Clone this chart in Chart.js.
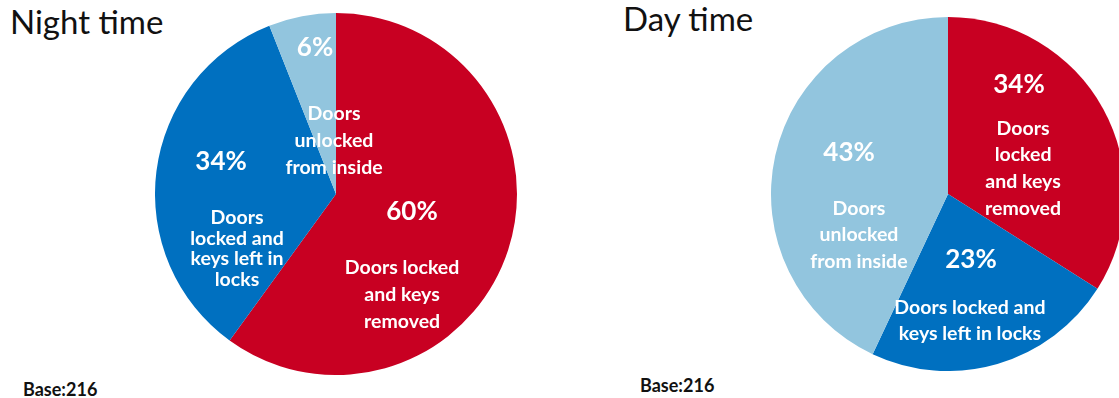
<!DOCTYPE html>
<html>
<head>
<meta charset="utf-8">
<script src="https://cdn.jsdelivr.net/npm/chart.js@4.4.1/dist/chart.umd.min.js"></script>
<style>
  html, body { margin: 0; padding: 0; width: 1119px; height: 398px; overflow: hidden; background: #fff; }
  .title { position: absolute; font-family: Lato, "Open Sans", sans-serif; font-size: 33px; color: #111; line-height: 1; white-space: nowrap; }
  .base { position: absolute; font-family: Lato, "Open Sans", sans-serif; font-weight: bold; font-size: 18px; color: #111; line-height: 1; white-space: nowrap; }
  canvas { position: absolute; }
</style>
</head>
<body>
<div class="title" id="nightTitle" style="left:10px; top:5px;">Night time</div>
<div class="title" id="dayTitle" style="left:623px; top:2px;">Day time</div>
<div class="base" style="left:23px; top:380px;">Base:216</div>
<div class="base" style="left:640px; top:376px;">Base:216</div>
<canvas id="nightChart" width="362" height="362" style="left:155px; top:13px;"></canvas>
<canvas id="dayChart" width="354" height="354" style="left:771px; top:17px;"></canvas>

<script>
const categories = ['Doors locked and keys removed', 'Doors locked and keys left in locks', 'Doors unlocked from inside'];
const sliceColors = ['#C80022', '#0070C0', '#92C5DE'];

const nightValues = [60, 34, 6];
const dayValues = [34, 23, 43];

// how each category name is wrapped inside the slices
const nightNameLines = [
  ['Doors locked', 'and keys', 'removed'],
  ['Doors', 'locked and', 'keys left in', 'locks'],
  ['Doors', 'unlocked', 'from inside']
];
const dayNameLines = [
  ['Doors', 'locked', 'and keys', 'removed'],
  ['Doors locked and', 'keys left in locks'],
  ['Doors', 'unlocked', 'from inside']
];

// label anchors as fractions of the pie radius, relative to its centre
const nightPlacement = {
  pct: [[0.42, 0.10], [-0.635, -0.177], [-0.116, -0.807]],
  name: [[0.365, 0.558], [-0.547, 0.301], [-0.011, -0.293]],
  lineHeight: [27, 20.5, 27]
};
const dayPlacement = {
  pct: [[0.401, -0.619], [0.13, 0.37], [-0.559, -0.234]],
  name: [[0.424, -0.144], [0.124, 0.715], [-0.503, 0.232]],
  lineHeight: [26.7, 26, 26.5]
};

const sliceLabels = {
  id: 'sliceLabels',
  afterDatasetsDraw(chart, args, opts) {
    const ctx = chart.ctx;
    const meta = chart.getDatasetMeta(0);
    const values = chart.data.datasets[0].data;
    ctx.save();
    ctx.fillStyle = '#fff';
    ctx.textAlign = 'center';
    ctx.textBaseline = 'middle';
    meta.data.forEach((arc, i) => {
      const { x, y, outerRadius } = arc.getProps(['x', 'y', 'outerRadius'], true);
      const p = opts.placement;
      ctx.font = 'bold 26px Lato, "Open Sans", sans-serif';
      ctx.fillText(values[i] + '%', x + p.pct[i][0] * outerRadius, y + p.pct[i][1] * outerRadius);

      const lines = opts.lines[i];
      const lh = p.lineHeight[i];
      const cx = x + p.name[i][0] * outerRadius;
      const cy = y + p.name[i][1] * outerRadius;
      ctx.font = 'bold 19.5px Lato, "Open Sans", sans-serif';
      lines.forEach((line, k) => {
        ctx.fillText(line, cx, cy + (k - (lines.length - 1) / 2) * lh);
      });
    });
    ctx.restore();
  }
};

const makePie = (id, values, lines, placement) => {
  const ctx = document.getElementById(id).getContext('2d');
  return new Chart(ctx, {
    type: 'pie',
    data: {
      labels: categories,
      datasets: [{
        data: values,
        backgroundColor: sliceColors,
        borderWidth: 0
      }]
    },
    options: {
      responsive: false,
      animation: false,
      layout: { padding: 0 },
      plugins: {
        legend: { display: false },
        tooltip: { enabled: false },
        sliceLabels: { lines: lines, placement: placement }
      }
    },
    plugins: [sliceLabels]
  });
};

document.addEventListener('DOMContentLoaded', () => {
  makePie('nightChart', nightValues, nightNameLines, nightPlacement);
  makePie('dayChart', dayValues, dayNameLines, dayPlacement);
});
</script>
</body>
</html>
